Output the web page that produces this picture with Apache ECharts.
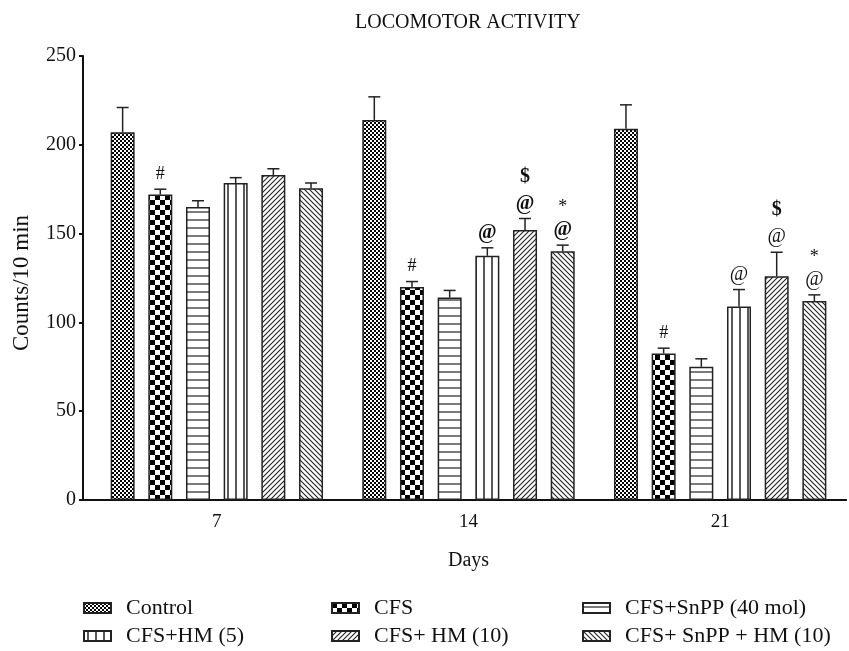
<!DOCTYPE html>
<html>
<head>
<meta charset="utf-8">
<script src="https://cdn.jsdelivr.net/npm/echarts@6/dist/echarts.min.js"></script>
<style>
html, body { margin: 0; padding: 0; background: #fff; }
#chart { width: 849px; height: 651px; }
</style>
</head>
<body>
<div id="chart"></div>
<script>
// data
const days = ['7', '14', '21'];
const seriesNames = ['Control', 'CFS', 'CFS+SnPP (40 mol)', 'CFS+HM (5)', 'CFS+ HM (10)', 'CFS+ SnPP + HM (10)'];
const control = [207, 214, 209];
const controlErr = [14, 13, 13.5];
const cfs = [172, 120, 82.5];
const cfsErr = [3, 3, 3];
const snpp = [165, 114, 75];
const snppErr = [3.5, 4, 4.5];
const hm5 = [178.5, 137.5, 109];
const hm5Err = [3, 4.5, 9.5];
const hm10 = [183, 152, 126];
const hm10Err = [3.5, 6.5, 13.5];
const snppHm10 = [175.5, 140, 112];
const snppHm10Err = [3, 3.5, 3.5];
// significance marks, bottom to top
const controlMarks = [[], [], []];
const cfsMarks = [['#'], ['#'], ['#']];
const snppMarks = [[], [], []];
const hm5Marks = [[], ['@'], ['@']];
const hm10Marks = [[], ['@', '$'], ['@', '$']];
const snppHm10Marks = [[], ['@', '*'], ['@', '*']];
const boldAtGroups = [false, true, false];
const yTicks = [0, 50, 100, 150, 200, 250];

const values = [control, cfs, snpp, hm5, hm10, snppHm10];
const errors = [controlErr, cfsErr, snppErr, hm5Err, hm10Err, snppHm10Err];
const marks = [controlMarks, cfsMarks, snppMarks, hm5Marks, hm10Marks, snppHm10Marks];

const font = 'Liberation Serif';
const barW = 24;
const gapRatio = 0.57;

// pattern fills
function makePattern(w, h, draw) {
    let c = document.createElement('canvas');
    c.width = w; c.height = h;
    let ctx = c.getContext('2d');
    ctx.fillStyle = '#fff';
    ctx.fillRect(0, 0, w, h);
    ctx.fillStyle = '#000';
    ctx.strokeStyle = '#222';
    draw(ctx, w, h);
    return { image: c, repeat: 'repeat' };
}
const patterns = [
    makePattern(4, 4, (ctx) => { ctx.fillRect(0, 0, 2, 2); ctx.fillRect(2, 2, 2, 2); }),
    makePattern(10, 10, (ctx) => { ctx.fillRect(0, 0, 5, 5); ctx.fillRect(5, 5, 5, 5); }),
    makePattern(8, 8, (ctx) => { ctx.lineWidth = 1.2; ctx.beginPath(); ctx.moveTo(0, 4); ctx.lineTo(8, 4); ctx.stroke(); }),
    makePattern(8, 8, (ctx) => { ctx.lineWidth = 1.5; ctx.beginPath(); ctx.moveTo(4, 0); ctx.lineTo(4, 8); ctx.stroke(); }),
    makePattern(5, 5, (ctx) => {
        ctx.lineWidth = 1.1; ctx.beginPath();
        ctx.moveTo(-1, 6); ctx.lineTo(6, -1);
        ctx.moveTo(-1, 1); ctx.lineTo(1, -1);
        ctx.moveTo(4, 6); ctx.lineTo(6, 4);
        ctx.stroke();
    }),
    makePattern(5, 5, (ctx) => {
        ctx.lineWidth = 1.1; ctx.beginPath();
        ctx.moveTo(-1, -1); ctx.lineTo(6, 6);
        ctx.moveTo(4, -1); ctx.lineTo(6, 1);
        ctx.moveTo(-1, 4); ctx.lineTo(1, 6);
        ctx.stroke();
    })
];

let barSeries = seriesNames.map((name, i) => ({
    name: name,
    type: 'bar',
    data: values[i],
    barWidth: barW,
    barGap: (gapRatio * 100) + '%',
    barCategoryGap: '16%',
    itemStyle: { color: patterns[i], borderColor: '#222', borderWidth: 1.5 },
    emphasis: { disabled: true }
}));

let errData = [];
for (let s = 0; s < values.length; s++) {
    for (let g = 0; g < days.length; g++) {
        errData.push([g, s, values[s][g], errors[s][g]]);
    }
}

let errSeries = {
    type: 'custom',
    data: errData,
    encode: { x: 0, y: 2 },
    z: 5,
    silent: true,
    renderItem: function (params, api) {
        let g = api.value(0), s = api.value(1), v = api.value(2), e = api.value(3);
        let base = api.coord([g, v]);
        let top = api.coord([g, v + e]);
        let x = base[0] + (s - 2.5) * barW * (1 + gapRatio);
        let style = { stroke: '#222', lineWidth: 1.5 };
        let children = [
            { type: 'line', shape: { x1: x, y1: base[1], x2: x, y2: top[1] }, style: style },
            { type: 'line', shape: { x1: x - 6, y1: top[1], x2: x + 6, y2: top[1] }, style: style }
        ];
        let y = top[1] - 15;
        marks[s][g].forEach((m) => {
            let bold = m === '$' || (m === '@' && boldAtGroups[g]);
            let size = m === '#' || m === '*' ? 18 : 20;
            let dy = m === '*' ? 4 : 0;
            children.push({
                type: 'text',
                style: {
                    text: m, x: x, y: y + dy,
                    align: 'center', verticalAlign: 'middle',
                    font: (bold ? 'bold ' : '') + size + 'px "' + font + '"',
                    fill: '#111'
                }
            });
            y -= 27;
        });
        return { type: 'group', children: children };
    }
};

function legendCol(left, names) {
    return {
        left: left, top: 597, orient: 'vertical', padding: 0,
        itemWidth: 27, itemHeight: 10, itemGap: 6,
        selectedMode: false,
        icon: 'rect',
        data: names,
        textStyle: { fontFamily: font, fontSize: 22, color: '#111', lineHeight: 22, padding: [0, 0, 0, 10] }
    };
}

let chart = echarts.init(document.getElementById('chart'));
chart.setOption({
    backgroundColor: '#fff',
    animation: false,
    title: {
        text: 'LOCOMOTOR ACTIVITY',
        left: 350, top: 8,
        textStyle: { fontFamily: font, fontSize: 20, fontWeight: 'normal', color: '#111' }
    },
    legend: [
        legendCol(83, [seriesNames[0], seriesNames[3]]),
        legendCol(331, [seriesNames[1], seriesNames[4]]),
        legendCol(582, [seriesNames[2], seriesNames[5]])
    ],
    grid: [
        { left: 91, right: 3, top: 56, bottom: 151 },
        // only carries the base line that runs on to the y axis
        { left: 83, right: 3, top: 56, bottom: 151 }
    ],
    xAxis: [{
        type: 'category',
        gridIndex: 0,
        data: days,
        name: 'Days',
        nameLocation: 'middle',
        nameGap: 51,
        nameTextStyle: { fontFamily: font, fontSize: 20, color: '#111' },
        axisLine: { lineStyle: { color: '#111', width: 2 } },
        axisTick: { alignWithLabel: true, length: 7, lineStyle: { width: 2, color: '#111' } },
        axisLabel: { fontFamily: font, fontSize: 19, color: '#111', margin: 13 }
    }, {
        type: 'value',
        gridIndex: 1,
        min: 0, max: 1,
        axisLine: { show: true, lineStyle: { color: '#111', width: 2 } },
        axisTick: { show: false },
        axisLabel: { show: false },
        splitLine: { show: false }
    }],
    yAxis: [{
        type: 'value',
        gridIndex: 0,
        min: yTicks[0], max: yTicks[yTicks.length - 1], interval: 50,
        offset: 8,
        name: 'Counts/10 min',
        nameLocation: 'middle',
        nameRotate: 90,
        nameGap: 50,
        nameTextStyle: { fontFamily: font, fontSize: 23, color: '#111', padding: [0, 10, 0, 0] },
        axisLine: { show: true, lineStyle: { color: '#111', width: 2 } },
        axisTick: { show: true, length: 4, lineStyle: { width: 2, color: '#111' } },
        axisLabel: { fontFamily: font, fontSize: 20, color: '#111', margin: 7 },
        splitLine: { show: false }
    }, {
        type: 'value',
        gridIndex: 1,
        show: false
    }],
    series: barSeries.concat([errSeries])
});
</script>
</body>
</html>
